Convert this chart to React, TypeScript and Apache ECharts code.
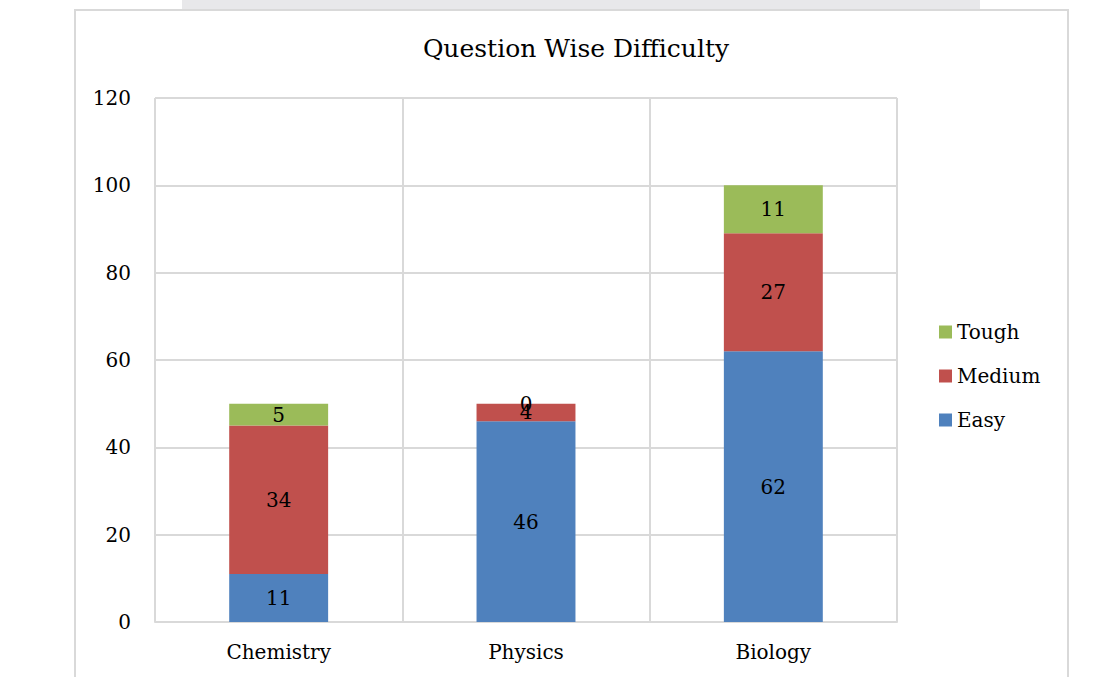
import React, { useEffect, useRef } from "react";
import * as echarts from "echarts";

const categories = ["Chemistry", "Physics", "Biology"];
const easy = [11, 46, 62];
const medium = [34, 4, 27];
const tough = [5, 0, 11];
const yTicks = { min: 0, max: 120, interval: 20 };

const FONT = "'DejaVu Serif', 'Liberation Serif', serif";

export default function App() {
  const ref = useRef<HTMLDivElement>(null);
  useEffect(() => {
    if (!ref.current) return;
    const chart = echarts.init(ref.current, null, { renderer: "svg" });
    const label = {
      show: true,
      position: "inside",
      color: "#000",
      fontFamily: FONT,
      fontSize: 20,
    };
    chart.setOption({
      animation: false,
      backgroundColor: "#fff",
      graphic: [
        {
          type: "polygon",
          shape: { points: [[182, 0], [980, 0], [980, 10], [182, 10]] },
          style: { fill: "#e8e8ea" },
          z: -10,
        },
        {
          type: "rect",
          shape: { x: 75, y: 10, width: 993, height: 690 },
          style: { fill: "#fff", stroke: "#d9d9d9", lineWidth: 2 },
          z: -5,
        },
      ],
      title: {
        text: "Question Wise Difficulty",
        left: 571,
        top: 31,
        textAlign: "center",
        textStyle: { fontFamily: FONT, fontSize: 25, fontWeight: "normal", color: "#000" },
      },
      legend: {
        orient: "vertical",
        left: 934,
        top: 317,
        itemWidth: 13,
        itemHeight: 13,
        itemGap: 24,
        data: ["Tough", "Medium", "Easy"],
        textStyle: { fontFamily: FONT, fontSize: 20, color: "#000" },
        icon: "rect",
      },
      grid: { left: 155, right: 217, top: 98, bottom: 55 },
      xAxis: {
        type: "category",
        data: categories,
        axisLine: { lineStyle: { color: "#d9d9d9", width: 2 } },
        axisTick: { show: false },
        splitLine: { show: true, lineStyle: { color: "#d9d9d9", width: 2 } },
        axisLabel: { color: "#000", fontFamily: FONT, fontSize: 20, margin: 20 },
      },
      yAxis: {
        type: "value",
        min: yTicks.min,
        max: yTicks.max,
        interval: yTicks.interval,
        axisLine: { show: false },
        axisTick: { show: false },
        splitLine: { lineStyle: { color: "#d9d9d9", width: 2 } },
        axisLabel: { color: "#000", fontFamily: FONT, fontSize: 20, margin: 24 },
      },
      series: [
        { name: "Easy", type: "bar", stack: "a", data: easy, barWidth: "40%", itemStyle: { color: "#4f81bd" }, label },
        { name: "Medium", type: "bar", stack: "a", data: medium, itemStyle: { color: "#c0504d" }, label },
        { name: "Tough", type: "bar", stack: "a", data: tough, itemStyle: { color: "#9bbb59" }, label },
      ],
    });
    return () => chart.dispose();
  }, []);
  return (
    <div
      ref={ref}
      style={{ position: "fixed", left: 0, top: 0, width: 1114, height: 677 }}
    />
  );
}
